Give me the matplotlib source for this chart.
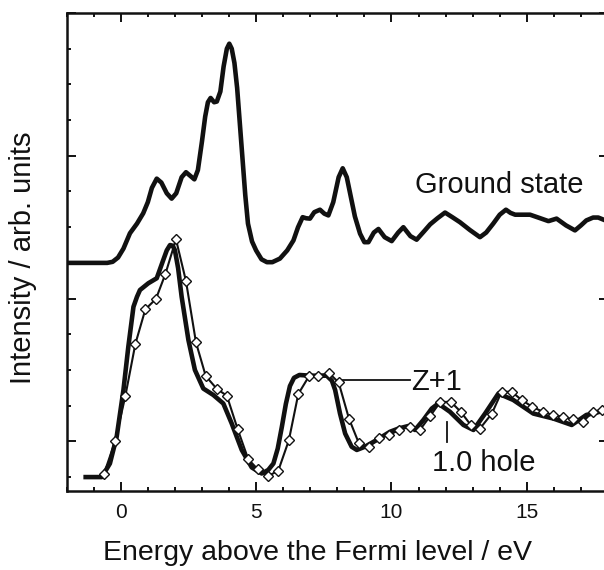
import matplotlib
matplotlib.use("Agg")
import matplotlib.pyplot as plt
from matplotlib.ticker import MultipleLocator, FixedLocator

plt.rcParams['font.family'] = ['Liberation Sans', 'DejaVu Sans']

# Ground-state spectrum (energy in eV, intensity in arb. units above its own baseline)
gs_energy = [-2.0, -0.5, -0.3, -0.1, 0.1, 0.34, 0.6, 0.83, 1.0, 1.15, 1.33, 1.5, 1.7,
             1.88, 2.05, 2.25, 2.41, 2.55, 2.72, 2.85, 3.0, 3.12, 3.22, 3.32, 3.45,
             3.55, 3.68, 3.8, 3.92, 4.01, 4.1, 4.2, 4.3, 4.4, 4.5, 4.6, 4.7, 4.85,
             5.0, 5.2, 5.4, 5.6, 5.88, 6.15, 6.38, 6.55, 6.72, 6.85, 6.99, 7.15,
             7.36, 7.52, 7.67, 7.85, 8.05, 8.2, 8.35, 8.5, 8.65, 8.84, 9.0, 9.15,
             9.35, 9.52, 9.75, 10.01, 10.25, 10.44, 10.7, 10.93, 11.2, 11.43, 11.7,
             11.98, 12.25, 12.53, 12.9, 13.27, 13.5, 13.76, 14.0, 14.23, 14.4,
             14.57, 15.12, 15.5, 15.8, 16.1, 16.45, 16.78, 17.0, 17.2, 17.45,
             17.64, 18.0]
gs_intensity = [0.0, 0.0, 0.03, 0.15, 0.4, 0.83, 1.1, 1.39, 1.7, 2.1, 2.36, 2.25, 1.95,
                1.8, 1.95, 2.4, 2.54, 2.45, 2.34, 2.6, 3.4, 4.1, 4.5, 4.62, 4.5,
                4.52, 4.8, 5.5, 6.0, 6.14, 6.0, 5.6, 4.9, 3.9, 2.9, 1.9, 1.1, 0.6,
                0.35, 0.1, 0.02, 0.02, 0.12, 0.35, 0.63, 1.0, 1.28, 1.25, 1.24, 1.42,
                1.49, 1.38, 1.33, 1.7, 2.4, 2.65, 2.4, 1.85, 1.3, 0.82, 0.58, 0.58,
                0.85, 0.95, 0.72, 0.61, 0.85, 1.0, 0.75, 0.65, 0.88, 1.08, 1.25,
                1.41, 1.28, 1.14, 0.92, 0.72, 0.85, 1.1, 1.35, 1.49, 1.4,
                1.35, 1.35, 1.25, 1.17, 1.24, 1.05, 0.91, 1.05, 1.19, 1.27,
                1.27, 1.16]
gs_offset = 6.0

# Full core-hole calculation (thick line)
hole_energy = [-1.38, -0.7, -0.4, -0.15, 0.1, 0.28, 0.47, 0.6, 0.71, 1.02, 1.33, 1.57,
               1.7, 1.82, 1.92, 2.0, 2.12, 2.25, 2.5, 2.74, 3.05, 3.42, 3.79, 4.1,
               4.47, 4.84, 5.21, 5.45, 5.64, 5.8, 5.95, 6.1, 6.25, 6.4, 6.6, 7.0,
               7.61, 7.8, 7.92, 8.1, 8.29, 8.53, 8.72, 9.02, 9.46, 9.95, 10.26,
               10.62, 10.87, 11.18, 11.49, 11.73, 12.16, 12.66, 13.03, 13.46,
               13.95, 14.5, 15.24, 15.98, 16.66, 17.2, 17.7, 18.0]
hole_intensity = [0.0, 0.0, 0.38, 1.13, 2.44, 3.65, 4.77, 5.05, 5.24, 5.43, 5.57, 6.08,
                  6.35, 6.5, 6.48, 6.36, 5.85, 5.05, 3.84, 3.0, 2.48, 2.3, 2.06, 1.5,
                  0.76, 0.27, 0.1, 0.2, 0.38, 0.8, 1.4, 2.05, 2.55, 2.78, 2.86, 2.84,
                  2.84, 2.7, 2.44, 1.78, 1.22, 0.85, 0.76, 0.85, 1.04, 1.27, 1.36,
                  1.43, 1.32, 1.6, 1.92, 2.06, 1.83, 1.46, 1.32, 1.78,
                  2.34, 2.16, 1.78, 1.64, 1.46, 1.74, 1.83, 1.82]

# Z+1 approximation (thin line with open diamonds)
zp1_energy = [-0.62, -0.21, 0.17, 0.54, 0.91, 1.3, 1.65, 2.04, 2.41, 2.78, 3.14, 3.55,
              3.92, 4.32, 4.71, 5.06, 5.45, 5.82, 6.21, 6.56, 6.95, 7.3, 7.7, 8.05,
              8.43, 8.79, 9.16, 9.53, 9.92, 10.29, 10.67, 11.04, 11.43, 11.8, 12.19,
              12.56, 12.93, 13.27, 13.71, 14.07, 14.44, 14.81, 15.2, 15.59, 15.96,
              16.33, 16.7, 17.07, 17.44, 17.77]
zp1_intensity = [0.09, 1.0, 2.27, 3.73, 4.7, 4.99, 5.69, 6.66, 5.49, 3.77, 2.83, 2.47,
                 2.28, 1.34, 0.5, 0.22, 0.03, 0.18, 1.03, 2.33, 2.82, 2.84, 2.91, 2.65,
                 1.64, 0.96, 0.83, 1.1, 1.18, 1.32, 1.41, 1.31, 1.71, 2.1, 2.11,
                 1.83, 1.46, 1.36, 1.78, 2.39, 2.39, 2.16, 1.97, 1.83, 1.74,
                 1.69, 1.62, 1.55, 1.83, 1.88]

x_ticks = [0, 5, 10, 15]
x_ticklabels = ["0", "5", "10", "15"]

ink = "#111111"

fig = plt.figure(figsize=(6.04, 5.70), dpi=100)
ax = fig.add_axes([66.6 / 604, 79 / 570, 541.4 / 604, 478 / 570])

ax.plot(gs_energy, [v + gs_offset for v in gs_intensity], color=ink, lw=3.3,
        solid_joinstyle="round", solid_capstyle="round", zorder=3)
ax.plot(hole_energy, hole_intensity, color=ink, lw=3.3,
        solid_joinstyle="round", solid_capstyle="butt", zorder=3)
ax.plot(zp1_energy, zp1_intensity, color=ink, lw=1.5, marker="D", ms=5.0,
        mfc="white", mec=ink, mew=1.0, zorder=4)

# labels with leader lines
ax.plot([8.22, 10.68], [2.72, 2.72], color=ink, lw=1.3, zorder=2)
ax.text(10.72, 2.44, "Z+1", fontsize=21, color=ink, ha="left", va="baseline")
ax.plot([12.04, 12.04], [1.55, 0.99], color=ink, lw=1.3, zorder=2)
ax.text(11.5, 0.18, "1.0 hole", fontsize=21, color=ink, ha="left", va="baseline")
ax.text(10.86, 7.96, "Ground state", fontsize=21, color=ink, ha="left", va="baseline")

ax.set_xlim(-2, 18)
ax.set_ylim(-0.39, 13.0)

ax.xaxis.set_major_locator(FixedLocator(x_ticks))
ax.set_xticklabels(x_ticklabels)
ax.xaxis.set_minor_locator(MultipleLocator(1))
ax.yaxis.set_major_locator(FixedLocator([1, 5, 9, 13]))
ax.yaxis.set_minor_locator(MultipleLocator(1))
ax.tick_params(which="both", direction="in", top=True, right=True, colors=ink,
               width=1.4, labelleft=False, labelsize=15, pad=8.5)
ax.tick_params(which="major", length=6.5)
ax.tick_params(which="minor", length=3)
for s in ax.spines.values():
    s.set_linewidth(1.8)
    s.set_color(ink)

fig.text(23.5 / 604, (570 - 257.5) / 570, "Intensity / arb. units", rotation=90,
         ha="center", va="center", fontsize=21, color=ink)
fig.text(317.5 / 604, 10 / 570, "Energy above the Fermi level / eV",
         ha="center", va="baseline", fontsize=20.5, color=ink)

fig.savefig("out.png", dpi=100)
